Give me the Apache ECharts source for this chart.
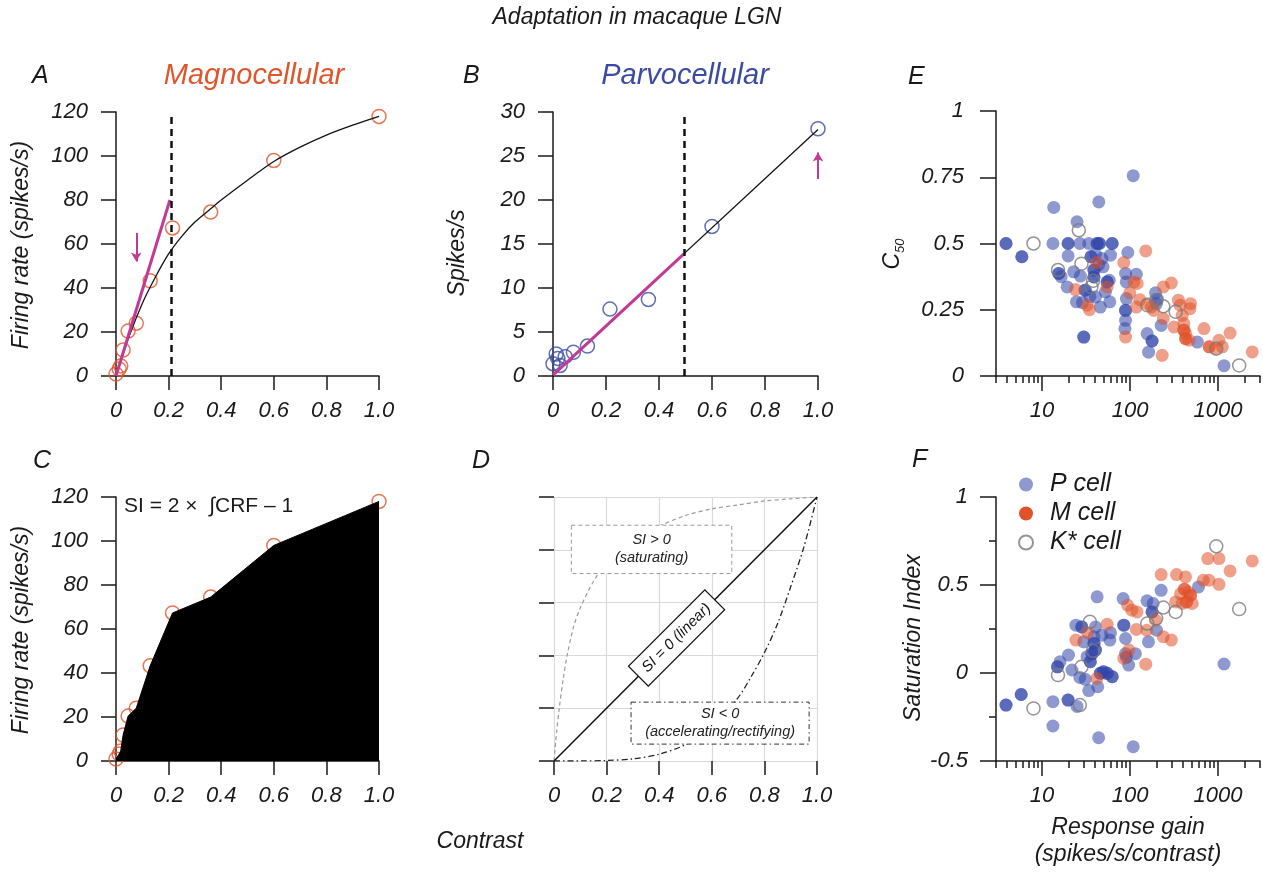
<!DOCTYPE html>
<html>
<head>
<meta charset="utf-8">
<title>Adaptation in macaque LGN</title>
<script src="https://cdn.jsdelivr.net/npm/echarts@6/dist/echarts.min.js"></script>
<style>
  html, body { margin: 0; padding: 0; background: #fff; }
  #chart { width: 1263px; height: 872px; }
</style>
</head>
<body>
<div id="chart"></div>
<script>
// ---- Contrast response data (panels A-C) ----
const contrast = [0, 0.012, 0.018, 0.027, 0.046, 0.077, 0.13, 0.215, 0.36, 0.6, 1.0];
const magnoRate = [0.9, 3.2, 4.6, 11.8, 20.4, 24, 43.3, 67.3, 74.5, 98, 118];
const parvoRate = [1.4, 2.5, 2.0, 1.2, 2.2, 2.7, 3.4, 7.6, 8.7, 17, 28.1];
const magnoFit = [[0, 0], [0.05, 18], [0.1, 33], [0.15, 45], [0.2, 55.5], [0.25, 63.5], [0.3, 70],
  [0.36, 76], [0.4, 80], [0.5, 89], [0.6, 97.5], [0.7, 104], [0.8, 109.5], [0.9, 114], [1.0, 118]];
const magnoSlope = [[0, 0], [0.205, 80]];
const parvoFit = [[0, 0.1], [1, 28]];
const parvoSlope = [[0, 0.1], [0.495, 13.9]];
const magnoC50 = 0.21;
const parvoC50 = 0.495;
const contrastTicks = ['0', '0.2', '0.4', '0.6', '0.8', '1.0'];

// ---- Schematic response curves (panel D) ----
const linearCRF = [[0, 0], [1, 1]];
const saturatingCRF = [[0, 0], [0.01, 0.11], [0.02, 0.2], [0.035, 0.31], [0.05, 0.4], [0.075, 0.51],
  [0.1, 0.58], [0.15, 0.68], [0.2, 0.75], [0.3, 0.84], [0.4, 0.89], [0.5, 0.93], [0.6, 0.955],
  [0.7, 0.97], [0.8, 0.985], [0.9, 0.993], [1, 1]];
const acceleratingCRF = [[0, 0], [0.1, 0.0001], [0.2, 0.002], [0.3, 0.008], [0.4, 0.026], [0.5, 0.062],
  [0.6, 0.13], [0.7, 0.24], [0.75, 0.32], [0.8, 0.41], [0.85, 0.52], [0.9, 0.66], [0.95, 0.81], [1, 1]];

// ---- Population data: [response gain, C50] (panel E) ----
const pCellC50 = [[3.9, 0.5], [3.9, 0.5], [5.9, 0.45], [5.9, 0.45], [13.3, 0.5], [13.6, 0.636],
  [15.5, 0.387], [15.5, 0.387], [16.5, 0.375], [19.8, 0.5], [19.8, 0.5], [19.8, 0.453], [19.3, 0.336],
  [22.9, 0.393], [24.6, 0.28], [25, 0.582], [26.9, 0.5], [27.3, 0.377], [28.8, 0.277], [29.8, 0.147],
  [29.8, 0.147], [30.9, 0.324], [30.9, 0.324], [34, 0.5], [36, 0.45], [36, 0.45], [38.9, 0.374],
  [38.9, 0.374], [40.5, 0.298], [42.3, 0.5], [42.3, 0.5], [44.2, 0.657], [45, 0.5], [45, 0.5], [46, 0.26],
  [48, 0.443], [49.4, 0.412], [52.5, 0.317], [55, 0.355], [55, 0.355], [58, 0.361], [58.9, 0.28],
  [60, 0.456], [62.7, 0.5], [62.7, 0.5], [38.9, 0.4], [38.9, 0.4], [40.5, 0.46], [44, 0.42], [35, 0.3],
  [89, 0.21], [87.5, 0.179], [89, 0.248], [89, 0.248], [91, 0.292], [89, 0.387], [90.6, 0.355],
  [94.4, 0.466], [108.7, 0.756], [118, 0.384], [156.6, 0.16], [162.6, 0.09], [178, 0.132], [178, 0.132],
  [195, 0.314], [200, 0.273], [226, 0.191], [582, 0.128], [1170, 0.039], [205, 0.29]];
const mCellC50 = [[24, 0.326], [32.5, 0.267], [34.6, 0.25], [41.8, 0.428], [55, 0.336], [85, 0.428],
  [89, 0.147], [99.5, 0.314], [110.7, 0.355], [120.7, 0.349], [129, 0.288], [118, 0.26], [151, 0.472],
  [157, 0.273], [174, 0.26], [186, 0.248], [232, 0.078], [239, 0.336], [239, 0.217], [295, 0.351],
  [316, 0.185], [355, 0.286], [371, 0.267], [392, 0.229], [409, 0.198], [409, 0.173], [409, 0.173],
  [428, 0.141], [428, 0.141], [428, 0.16], [470, 0.135], [480, 0.254], [487, 0.273], [692, 0.179],
  [794, 0.11], [794, 0.11], [940, 0.103], [1025, 0.135], [1120, 0.11], [1370, 0.162], [2450, 0.091]];
const kCellC50 = [[8, 0.5], [15.2, 0.4], [26.2, 0.55], [28.1, 0.424], [36.4, 0.336], [38, 0.359],
  [157, 0.267], [198, 0.286], [239, 0.263], [330, 0.242], [955, 0.103], [1740, 0.04]];

// ---- Population data: [response gain, saturation index] (panel F) ----
const pCellSI = [[3.9, -0.182], [3.9, -0.182], [5.8, -0.122], [5.8, -0.122], [13.3, -0.163],
  [13.3, -0.301], [15, 0.035], [15, 0.035], [16, 0.064], [19.8, -0.154], [19.8, -0.154], [20, 0.102],
  [21.9, 0.017], [24.3, 0.272], [25, -0.19], [26.9, -0.025], [28.3, 0.262], [28.3, 0.262], [29.8, 0.177],
  [31, -0.036], [32.5, 0.093], [34, -0.1], [35.4, 0.064], [35.4, 0.064], [37, 0.11], [37, 0.11],
  [39, 0.206], [40.5, 0.262], [42.3, 0.433], [43, -0.078], [44, -0.368], [46, -0.002], [46, -0.002],
  [48, 0.215], [50, 0.007], [50, 0.007], [55, -0.002], [55, -0.002], [59, 0.187], [62.7, -0.021],
  [62.7, -0.021], [60, 0.228], [83.6, 0.423], [85, 0.272], [85, 0.272], [89, 0.196], [89, 0.11],
  [91, 0.089], [96.6, 0.045], [108.7, -0.419], [115, 0.11], [156, 0.41], [162, 0.177], [178, 0.347],
  [178, 0.347], [183, 0.395], [200, 0.243], [226, 0.47], [600, 0.489], [1170, 0.051], [39, 0.168],
  [39, 0.168], [40.5, 0.13], [40.5, 0.13]];
const mCellSI = [[24.3, 0.187], [33, 0.228], [42, -0.031], [55, 0.277], [85, 0.083], [94, 0.385],
  [97, 0.13], [105, 0.357], [120, 0.347], [118, 0.247], [151, 0.05], [155, 0.243], [195, 0.3],
  [226, 0.559], [239, 0.206], [295, 0.187], [330, 0.404], [338, 0.559], [375, 0.45], [392, 0.395],
  [415, 0.476], [415, 0.476], [428, 0.546], [440, 0.404], [440, 0.404], [460, 0.46], [487, 0.442],
  [487, 0.442], [510, 0.395], [680, 0.527], [765, 0.65], [790, 0.527], [1025, 0.65], [1025, 0.504],
  [1370, 0.58], [2450, 0.637]];
const kCellSI = [[8, -0.201], [15.2, -0.012], [26.9, -0.182], [28.1, 0.035], [35, 0.291], [38, 0.126],
  [157, 0.281], [198, 0.31], [239, 0.372], [330, 0.347], [955, 0.72], [1740, 0.363]];

const gainMajorTicks = [10, 100, 1000];
const gainMinorTicks = [3, 4, 5, 6, 7, 8, 9, 20, 30, 40, 50, 60, 70, 80, 90,
  200, 300, 400, 500, 600, 700, 800, 900, 2000, 3000];

// ---- Styling ----
const FONT = '"Liberation Sans", Arial, Helvetica, sans-serif';
const INK = '#1a1a1a';
const MAGNO = '#E0552B';
const PARVO = '#3A4AA6';
const MAGENTA = '#C03A96';
const P_FILL = '#3246AA';
const M_FILL = '#E0522A';
const K_EDGE = '#7a7a7a';

const axisLineStyle = { show: true, onZero: false, lineStyle: { color: INK, width: 1.5 } };
const tickLabelStyle = { fontSize: 22, fontStyle: 'italic', fontFamily: FONT, color: INK };

function contrastAxis(gridIndex, showLine) {
  return {
    type: 'value', gridIndex, min: 0, max: 1, interval: 0.2,
    axisLine: showLine ? axisLineStyle : { show: false, onZero: false },
    axisTick: { show: true, length: 14, lineStyle: { color: INK, width: 1.5 } },
    axisLabel: Object.assign({ margin: 24, formatter: v => contrastTicks[Math.round(v / 0.2)] }, tickLabelStyle),
    splitLine: showLine ? { show: false } : { show: true, lineStyle: { color: '#dadada', width: 1.2 } }
  };
}
function rateAxis(gridIndex, max, interval) {
  return {
    type: 'value', gridIndex, min: 0, max, interval,
    axisLine: axisLineStyle,
    axisTick: { show: true, length: 15, lineStyle: { color: INK, width: 1.5 } },
    axisLabel: Object.assign({ margin: 28 }, tickLabelStyle),
    splitLine: { show: false }
  };
}
function gainAxis(gridIndex) {
  return {
    type: 'log', logBase: 10, gridIndex, min: 3, max: 3000, position: 'bottom',
    axisLine: axisLineStyle,
    axisTick: { show: true, length: 15, customValues: gainMajorTicks, lineStyle: { color: INK, width: 1.5 } },
    axisLabel: Object.assign({ margin: 24, customValues: gainMajorTicks, formatter: v => String(v) }, tickLabelStyle),
    splitLine: { show: false }
  };
}
function gainMinorAxis(gridIndex) {
  return {
    type: 'log', logBase: 10, gridIndex, min: 3, max: 3000, position: 'bottom',
    axisLine: { show: false, onZero: false },
    axisTick: { show: true, length: 7, customValues: gainMinorTicks, lineStyle: { color: INK, width: 1.5 } },
    axisLabel: { show: false },
    splitLine: { show: false }
  };
}

const openCircle = color => ({ color: 'rgba(255,255,255,0)', borderColor: color, borderWidth: 1.5 });

function crfPoints(rates) {
  return contrast.map((c, i) => [c, rates[i]]);
}

function label(text, x, y, size, extra) {
  return {
    type: 'text', x, y, z: 50,
    style: Object.assign({
      text, fill: INK, font: 'italic ' + size + 'px ' + FONT,
      align: 'left', verticalAlign: 'middle'
    }, extra || {})
  };
}
function vlabel(text, x, y, size, rich) {
  const el = {
    type: 'text', x, y, z: 50, rotation: Math.PI / 2,
    style: { text, fill: INK, font: 'italic ' + size + 'px ' + FONT, align: 'center', verticalAlign: 'middle' }
  };
  if (rich) el.style.rich = rich;
  return el;
}

const chart = echarts.init(document.getElementById('chart'), null, { renderer: 'canvas' });

const option = {
  backgroundColor: '#fff',
  animation: false,
  grid: [
    { left: 116, top: 112, width: 263, height: 264 },   // A
    { left: 553, top: 112, width: 265, height: 264 },   // B
    { left: 116, top: 497, width: 263, height: 264 },   // C
    { left: 554, top: 497, width: 263, height: 264 },   // D
    { left: 996, top: 111, width: 264, height: 265 },   // E
    { left: 996, top: 497, width: 264, height: 264 }    // F
  ],
  xAxis: [
    contrastAxis(0, true),
    contrastAxis(1, true),
    contrastAxis(2, true),
    contrastAxis(3, false),
    gainAxis(4),
    gainMinorAxis(4),
    gainAxis(5),
    gainMinorAxis(5)
  ],
  yAxis: [
    rateAxis(0, 120, 20),
    rateAxis(1, 30, 5),
    rateAxis(2, 120, 20),
    {
      type: 'value', gridIndex: 3, min: 0, max: 1, interval: 0.2,
      axisLine: { show: false, onZero: false },
      axisTick: { show: true, length: 15, lineStyle: { color: INK, width: 1.5 } },
      axisLabel: { show: false },
      splitLine: { show: true, lineStyle: { color: '#dadada', width: 1.2 } }
    },
    {
      type: 'value', gridIndex: 4, min: 0, max: 1, interval: 0.25,
      axisLine: axisLineStyle,
      axisTick: { show: true, length: 16, lineStyle: { color: INK, width: 1.5 } },
      axisLabel: Object.assign({ margin: 32 }, tickLabelStyle),
      splitLine: { show: false }
    },
    {
      type: 'value', gridIndex: 5, min: -0.5, max: 1, interval: 0.5,
      axisLine: axisLineStyle,
      axisTick: { show: true, length: 16, lineStyle: { color: INK, width: 1.5 } },
      minorTick: { show: true, splitNumber: 2, length: 7, lineStyle: { color: INK, width: 1.5 } },
      axisLabel: Object.assign({ margin: 28 }, tickLabelStyle),
      splitLine: { show: false }
    }
  ],
  legend: {
    orient: 'vertical', left: 1013, top: 467,
    itemWidth: 38, itemHeight: 14, itemGap: 4,
    selectedMode: false,
    textStyle: { fontSize: 25, fontStyle: 'italic', fontFamily: FONT, color: INK },
    data: [
      { name: 'P cell' },
      { name: 'M cell', itemStyle: { opacity: 1 } },
      { name: 'K* cell' }
    ]
  },
  series: [
    // A: magnocellular contrast response
    {
      type: 'line', xAxisIndex: 0, yAxisIndex: 0, data: magnoFit, smooth: 0.3,
      showSymbol: false, lineStyle: { color: '#111', width: 1.3 }, silent: true,
      markLine: {
        silent: true, symbol: ['none', 'none'], label: { show: false },
        lineStyle: { color: '#111', width: 2.5, type: [7, 5] },
        data: [[{ coord: [magnoC50, 0] }, { coord: [magnoC50, 120] }]]
      }
    },
    {
      type: 'line', xAxisIndex: 0, yAxisIndex: 0, data: magnoSlope,
      showSymbol: false, lineStyle: { color: MAGENTA, width: 3 }, silent: true,
      markLine: {
        silent: true, symbol: ['none', 'arrow'], symbolSize: [8, 9], label: { show: false },
        lineStyle: { color: MAGENTA, width: 2, type: 'solid' },
        data: [[{ coord: [0.077, 65] }, { coord: [0.077, 52] }]]
      }
    },
    {
      type: 'scatter', xAxisIndex: 0, yAxisIndex: 0, data: crfPoints(magnoRate),
      symbolSize: 14, itemStyle: openCircle(MAGNO), silent: true
    },
    // B: parvocellular contrast response
    {
      type: 'line', xAxisIndex: 1, yAxisIndex: 1, data: parvoFit,
      showSymbol: false, lineStyle: { color: '#111', width: 1.3 }, silent: true,
      markLine: {
        silent: true, symbol: ['none', 'none'], label: { show: false },
        lineStyle: { color: '#111', width: 2.5, type: [7, 5] },
        data: [[{ coord: [parvoC50, 0] }, { coord: [parvoC50, 30] }]]
      }
    },
    {
      type: 'line', xAxisIndex: 1, yAxisIndex: 1, data: parvoSlope,
      showSymbol: false, lineStyle: { color: MAGENTA, width: 3 }, silent: true,
      markLine: {
        silent: true, symbol: ['none', 'arrow'], symbolSize: [8, 9], label: { show: false },
        lineStyle: { color: MAGENTA, width: 2, type: 'solid' },
        data: [[{ coord: [1.0, 22.4] }, { coord: [1.0, 25.4] }]]
      }
    },
    {
      type: 'scatter', xAxisIndex: 1, yAxisIndex: 1, data: crfPoints(parvoRate),
      symbolSize: 14, itemStyle: openCircle(PARVO), silent: true
    },
    // C: area under the magnocellular response
    {
      type: 'line', xAxisIndex: 2, yAxisIndex: 2, data: crfPoints(magnoRate),
      showSymbol: false, lineStyle: { color: '#000', width: 1 },
      areaStyle: { color: '#000', opacity: 1 }, silent: true
    },
    {
      type: 'scatter', xAxisIndex: 2, yAxisIndex: 2, data: crfPoints(magnoRate),
      symbolSize: 14, itemStyle: openCircle(MAGNO), silent: true
    },
    // D: schematic response shapes
    {
      type: 'line', xAxisIndex: 3, yAxisIndex: 3, data: saturatingCRF, smooth: 0.3,
      showSymbol: false, lineStyle: { color: '#9a9a9a', width: 1.2, type: [4, 3] }, silent: true
    },
    {
      type: 'line', xAxisIndex: 3, yAxisIndex: 3, data: acceleratingCRF, smooth: 0.3,
      showSymbol: false, lineStyle: { color: '#222', width: 1.3, type: [6, 3, 1.5, 3] }, silent: true
    },
    {
      type: 'line', xAxisIndex: 3, yAxisIndex: 3, data: linearCRF,
      showSymbol: false, lineStyle: { color: '#111', width: 1.5 }, silent: true
    },
    {
      type: 'custom', xAxisIndex: 3, yAxisIndex: 3, data: [[0, 0]], z: 10, silent: true,
      renderItem: function (params, api) {
        const font = 'italic 14.5px ' + FONT;
        const s0 = api.coord([0.066, 0.893]), s1 = api.coord([0.676, 0.71]);
        const a0 = api.coord([0.293, 0.223]), a1 = api.coord([0.97, 0.064]);
        const c = api.coord([0.466, 0.466]);
        return {
          type: 'group',
          children: [
            { type: 'rect', shape: { x: s0[0], y: s0[1], width: s1[0] - s0[0], height: s1[1] - s0[1] },
              style: { fill: '#fff', stroke: '#9a9a9a', lineWidth: 1, lineDash: [4, 3] } },
            { type: 'text', style: { text: 'SI > 0\n(saturating)', x: (s0[0] + s1[0]) / 2, y: (s0[1] + s1[1]) / 2,
              align: 'center', verticalAlign: 'middle', font, fill: '#222', lineHeight: 18 } },
            { type: 'rect', shape: { x: a0[0], y: a0[1], width: a1[0] - a0[0], height: a1[1] - a0[1] },
              style: { fill: '#fff', stroke: '#333', lineWidth: 1, lineDash: [5, 3, 1.5, 3] } },
            { type: 'text', style: { text: 'SI < 0\n(accelerating/rectifying)', x: (a0[0] + a1[0]) / 2, y: (a0[1] + a1[1]) / 2,
              align: 'center', verticalAlign: 'middle', font, fill: '#222', lineHeight: 18 } },
            { type: 'group', x: c[0], y: c[1], rotation: Math.PI / 4, children: [
              { type: 'rect', shape: { x: -54, y: -14, width: 108, height: 28 },
                style: { fill: '#fff', stroke: '#111', lineWidth: 1.2 } },
              { type: 'text', style: { text: 'SI = 0 (linear)', x: 0, y: 0, align: 'center', verticalAlign: 'middle',
                font: 'italic 15px ' + FONT, fill: '#111' } }
            ] }
          ]
        };
      }
    },
    // E: C50 versus response gain
    {
      name: 'P cell', type: 'scatter', xAxisIndex: 4, yAxisIndex: 4, data: pCellC50, symbolSize: 13,
      itemStyle: { color: P_FILL, opacity: 0.55 }, silent: true
    },
    {
      name: 'M cell', type: 'scatter', xAxisIndex: 4, yAxisIndex: 4, data: mCellC50, symbolSize: 13,
      itemStyle: { color: M_FILL, opacity: 0.55 }, silent: true
    },
    {
      name: 'K* cell', type: 'scatter', xAxisIndex: 4, yAxisIndex: 4, data: kCellC50, symbolSize: 13,
      itemStyle: openCircle(K_EDGE), silent: true
    },
    // F: saturation index versus response gain
    {
      name: 'P cell', type: 'scatter', xAxisIndex: 6, yAxisIndex: 5, data: pCellSI, symbolSize: 13,
      itemStyle: { color: P_FILL, opacity: 0.55 }, silent: true
    },
    {
      name: 'M cell', type: 'scatter', xAxisIndex: 6, yAxisIndex: 5, data: mCellSI, symbolSize: 13,
      itemStyle: { color: M_FILL, opacity: 0.55 }, silent: true
    },
    {
      name: 'K* cell', type: 'scatter', xAxisIndex: 6, yAxisIndex: 5, data: kCellSI, symbolSize: 13,
      itemStyle: openCircle(K_EDGE), silent: true
    }
  ],
  graphic: [
    label('Adaptation in macaque LGN', 637, 18, 23, { align: 'center' }),
    label('A', 32, 76, 25),
    label('Magnocellular', 254, 76, 29, { align: 'center', fill: MAGNO }),
    label('B', 463, 76, 25),
    label('Parvocellular', 685, 76, 29, { align: 'center', fill: PARVO }),
    label('E', 908, 77, 25),
    label('C', 33, 461, 25),
    label('D', 472, 461, 25),
    label('F', 912, 460, 25),
    label('SI = 2 ×  \u222BCRF \u2013 1', 124, 506, 21, { font: '21px ' + FONT }),
    vlabel('Firing rate (spikes/s)', 22, 245, 23),
    vlabel('Spikes/s', 458, 253, 23),
    vlabel('Firing rate (spikes/s)', 22, 630, 23),
    vlabel('{c|C}{s|50}', 893, 254, 23, {
      c: { fontSize: 23, fontStyle: 'italic', fontFamily: FONT, color: INK, lineHeight: 28, verticalAlign: 'middle' },
      s: { fontSize: 13, fontStyle: 'italic', fontFamily: FONT, color: INK, lineHeight: 28, verticalAlign: 'bottom' }
    }),
    vlabel('Saturation Index', 914, 638, 23),
    label('Contrast', 480, 842, 23, { align: 'center' }),
    label('Response gain', 1128, 828, 23, { align: 'center' }),
    label('(spikes/s/contrast)', 1128, 855, 23, { align: 'center' })
  ]
};

chart.setOption(option);
</script>
</body>
</html>
